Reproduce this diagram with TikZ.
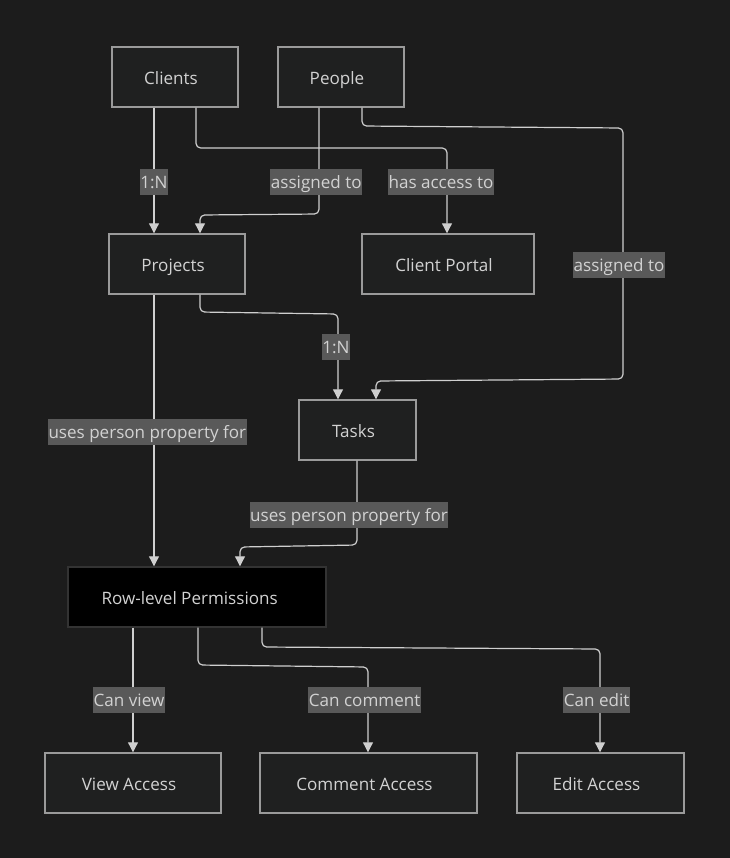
\documentclass[tikz,border=0pt]{standalone}
\usepackage{fontspec}
\setmainfont{Open Sans}
\usetikzlibrary{arrows.meta}
\definecolor{bgc}{HTML}{1C1C1C}
\definecolor{nodefill}{HTML}{1F2020}
\definecolor{nodeline}{HTML}{9A9A9A}
\definecolor{txt}{HTML}{D2D2D2}
\definecolor{lblfill}{HTML}{595959}
\definecolor{edgec}{HTML}{CFCFCF}
\definecolor{darkline}{HTML}{333333}
\tikzset{
  box/.style={draw=nodeline, fill=nodefill, line width=1.1pt, text=txt,
    minimum height=45pt, inner sep=0pt, text height=11.5pt, text depth=0.5pt,
    font=\fontsize{12.8}{15}\selectfont, execute at end node={\kern6pt}},
  darkbox/.style={box, draw=darkline, fill=black, execute at end node={\kern5pt}},
  lbl/.style={fill=lblfill, text=txt, inner xsep=0.5pt, inner ysep=0pt, sharp corners,
    minimum height=20pt, text height=10.5pt, text depth=1.5pt,
    font=\fontsize{12.8}{15}\selectfont},
  edge/.style={draw=edgec, line width=0.9pt, rounded corners=3.5pt,
    -{Triangle[length=7.5pt,width=7.5pt]}},
}
\begin{document}
\begin{tikzpicture}[x=0.75pt,y=-0.75pt]
\fill[bgc] (0,0) rectangle (730,858);
\useasboundingbox (0,0) rectangle (730,858);

\node[box, minimum width=94.5pt] (clients) at (175,77) {Clients};
\node[box, minimum width=94.5pt] (people) at (341,77) {People};
\node[box, minimum width=102pt] (projects) at (177,264) {Projects};
\node[box, minimum width=129pt] (portal) at (448,264) {Client Portal};
\node[box, minimum width=87.75pt] (tasks) at (357.5,430) {Tasks};
\node[darkbox, minimum width=193.5pt] (row) at (197,597) {Row-level Permissions};
\node[box, minimum width=132pt] (view) at (133,783) {View Access};
\node[box, minimum width=162.75pt] (comment) at (368.5,783) {Comment Access};
\node[box, minimum width=125.25pt] (edit) at (600.5,783) {Edit Access};

% Clients -> Projects
\draw[edge] (clients.south -| 154,0) -- (154,182) node[lbl] (l1) {1:N} -- (projects.north -| 154,0);
% Clients -> Client Portal
\draw[edge] (clients.south -| 196,0) -- (196,148) -- (447,148) -- (447,182) node[lbl, xshift=-4.5pt] (l2) {has access to} -- (portal.north -| 447,0);
% People -> Projects
\draw[edge] (people.south -| 319,0) -- (319,182) node[lbl, xshift=-2pt] (l3) {assigned to} -- (319,214) -- (200,215) -- (projects.north -| 200,0);
% People -> Tasks
\draw[edge] (people.south -| 362,0) -- (362,126) -- (623,128) -- (623,265) node[lbl, xshift=-3pt] (l4) {assigned to} -- (623,379) -- (376,381) -- (tasks.north -| 376,0);
% Projects -> Tasks
\draw[edge] (projects.south -| 200,0) -- (200,312) -- (338,314) -- (338,347) node[lbl, xshift=-1.5pt] (l5) {1:N} -- (tasks.north -| 338,0);
% Projects -> Row
\draw[edge] (projects.south -| 154,0) -- (154,432) node[lbl, xshift=-5pt] (l6) {uses person property for} -- (row.north -| 154,0);
% Tasks -> Row
\draw[edge] (tasks.south -| 357,0) -- (357,515) node[lbl, xshift=-6pt] (l7) {uses person property for} -- (357,545) -- (240,547) -- (row.north -| 240,0);
% Row -> View
\draw[edge] (row.south -| 133,0) -- (133,700) node[lbl, xshift=-3pt] (l8) {Can view} -- (view.north -| 133,0);
% Row -> Comment
\draw[edge] (row.south -| 198,0) -- (198,665) -- (368,667) -- (368,700) node[lbl, xshift=-2.5pt] (l9) {Can comment} -- (comment.north -| 368,0);
% Row -> Edit
\draw[edge] (row.south -| 262,0) -- (262,647) -- (600,649) -- (600,700) node[lbl, xshift=-2.5pt] (l10) {Can edit} -- (edit.north -| 600,0);
\end{tikzpicture}
\end{document}
